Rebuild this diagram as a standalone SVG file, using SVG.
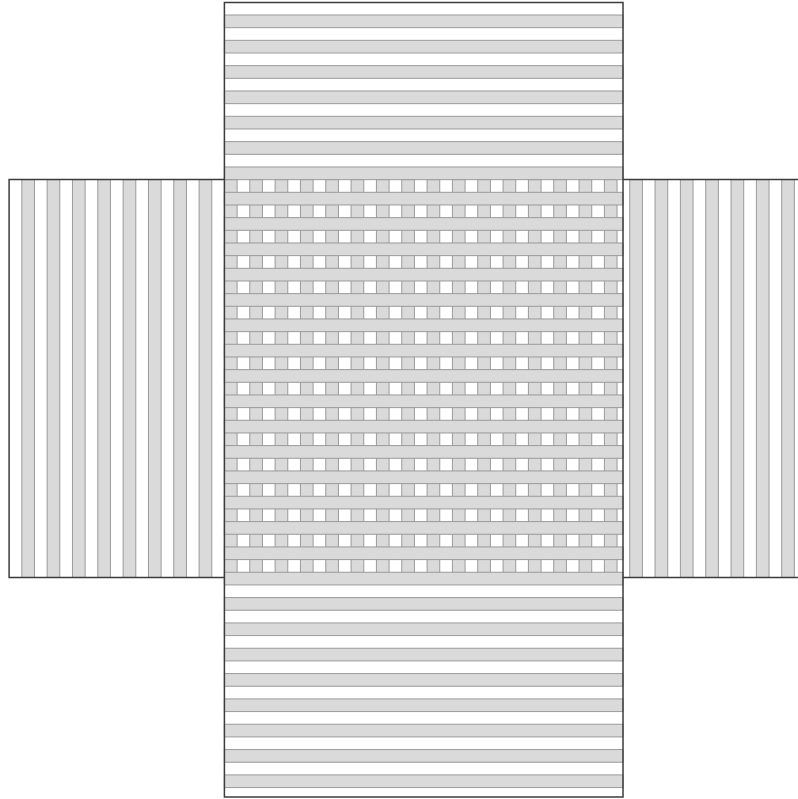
<svg xmlns="http://www.w3.org/2000/svg" width="798" height="799" viewBox="0 0 798 799">
<style>
.strip{fill:#dadada;stroke:#9a9a9a;stroke-width:1}
.border{fill:none;stroke:#3c3c3c;stroke-width:1.5}
</style>
<rect x="0" y="0" width="798" height="799" fill="#ffffff"/>
<g id="vertical-strips">
<rect class="strip" x="21.8" y="179.6" width="12.665" height="397.9"/>
<rect class="strip" x="47.13" y="179.6" width="12.665" height="397.9"/>
<rect class="strip" x="72.46" y="179.6" width="12.665" height="397.9"/>
<rect class="strip" x="97.79" y="179.6" width="12.665" height="397.9"/>
<rect class="strip" x="123.12" y="179.6" width="12.665" height="397.9"/>
<rect class="strip" x="148.45" y="179.6" width="12.665" height="397.9"/>
<rect class="strip" x="173.78" y="179.6" width="12.665" height="397.9"/>
<rect class="strip" x="199.11" y="179.6" width="12.665" height="397.9"/>
<rect class="strip" x="224.44" y="179.6" width="12.665" height="397.9"/>
<rect class="strip" x="249.77" y="179.6" width="12.665" height="397.9"/>
<rect class="strip" x="275.1" y="179.6" width="12.665" height="397.9"/>
<rect class="strip" x="300.43" y="179.6" width="12.665" height="397.9"/>
<rect class="strip" x="325.76" y="179.6" width="12.665" height="397.9"/>
<rect class="strip" x="351.09" y="179.6" width="12.665" height="397.9"/>
<rect class="strip" x="376.42" y="179.6" width="12.665" height="397.9"/>
<rect class="strip" x="401.75" y="179.6" width="12.665" height="397.9"/>
<rect class="strip" x="427.08" y="179.6" width="12.665" height="397.9"/>
<rect class="strip" x="452.41" y="179.6" width="12.665" height="397.9"/>
<rect class="strip" x="477.74" y="179.6" width="12.665" height="397.9"/>
<rect class="strip" x="503.07" y="179.6" width="12.665" height="397.9"/>
<rect class="strip" x="528.4" y="179.6" width="12.665" height="397.9"/>
<rect class="strip" x="553.73" y="179.6" width="12.665" height="397.9"/>
<rect class="strip" x="579.06" y="179.6" width="12.665" height="397.9"/>
<rect class="strip" x="604.39" y="179.6" width="12.665" height="397.9"/>
<rect class="strip" x="629.72" y="179.6" width="12.665" height="397.9"/>
<rect class="strip" x="655.05" y="179.6" width="12.665" height="397.9"/>
<rect class="strip" x="680.38" y="179.6" width="12.665" height="397.9"/>
<rect class="strip" x="705.71" y="179.6" width="12.665" height="397.9"/>
<rect class="strip" x="731.04" y="179.6" width="12.665" height="397.9"/>
<rect class="strip" x="756.37" y="179.6" width="12.665" height="397.9"/>
<rect class="strip" x="781.7" y="179.6" width="12.665" height="397.9"/>
</g>
<g id="horizontal-strips">
<rect class="strip" x="224.4" y="15" width="398.6" height="12.665"/>
<rect class="strip" x="224.4" y="40.33" width="398.6" height="12.665"/>
<rect class="strip" x="224.4" y="65.66" width="398.6" height="12.665"/>
<rect class="strip" x="224.4" y="90.99" width="398.6" height="12.665"/>
<rect class="strip" x="224.4" y="116.32" width="398.6" height="12.665"/>
<rect class="strip" x="224.4" y="141.65" width="398.6" height="12.665"/>
<rect class="strip" x="224.4" y="166.98" width="398.6" height="12.665"/>
<rect class="strip" x="224.4" y="192.31" width="398.6" height="12.665"/>
<rect class="strip" x="224.4" y="217.64" width="398.6" height="12.665"/>
<rect class="strip" x="224.4" y="242.97" width="398.6" height="12.665"/>
<rect class="strip" x="224.4" y="268.3" width="398.6" height="12.665"/>
<rect class="strip" x="224.4" y="293.63" width="398.6" height="12.665"/>
<rect class="strip" x="224.4" y="318.96" width="398.6" height="12.665"/>
<rect class="strip" x="224.4" y="344.29" width="398.6" height="12.665"/>
<rect class="strip" x="224.4" y="369.62" width="398.6" height="12.665"/>
<rect class="strip" x="224.4" y="394.95" width="398.6" height="12.665"/>
<rect class="strip" x="224.4" y="420.28" width="398.6" height="12.665"/>
<rect class="strip" x="224.4" y="445.61" width="398.6" height="12.665"/>
<rect class="strip" x="224.4" y="470.94" width="398.6" height="12.665"/>
<rect class="strip" x="224.4" y="496.27" width="398.6" height="12.665"/>
<rect class="strip" x="224.4" y="521.6" width="398.6" height="12.665"/>
<rect class="strip" x="224.4" y="546.93" width="398.6" height="12.665"/>
<rect class="strip" x="224.4" y="572.26" width="398.6" height="12.665"/>
<rect class="strip" x="224.4" y="597.59" width="398.6" height="12.665"/>
<rect class="strip" x="224.4" y="622.92" width="398.6" height="12.665"/>
<rect class="strip" x="224.4" y="648.25" width="398.6" height="12.665"/>
<rect class="strip" x="224.4" y="673.58" width="398.6" height="12.665"/>
<rect class="strip" x="224.4" y="698.91" width="398.6" height="12.665"/>
<rect class="strip" x="224.4" y="724.24" width="398.6" height="12.665"/>
<rect class="strip" x="224.4" y="749.57" width="398.6" height="12.665"/>
<rect class="strip" x="224.4" y="774.9" width="398.6" height="12.665"/>
</g>
<g id="outlines">
<rect class="border" x="224.4" y="2.5" width="398.6" height="794.5"/>
<path class="border" d="M224.4,179.6 H9.1 V577.5 H224.4 M623,179.6 H799 M623,577.5 H799"/>
</g>
</svg>
